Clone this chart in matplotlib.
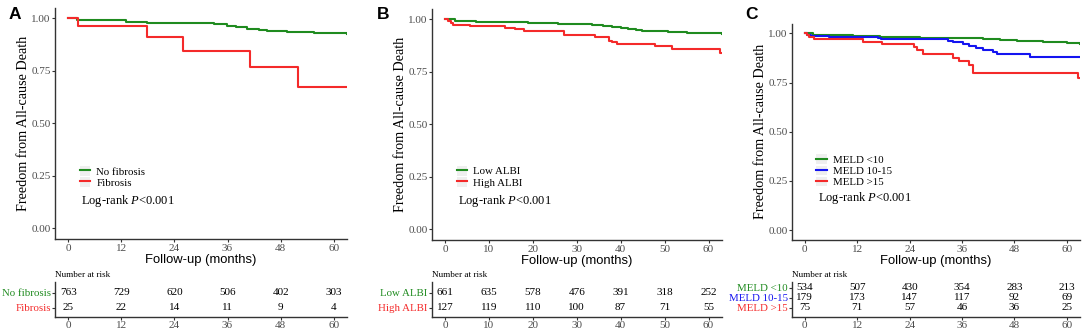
import matplotlib
matplotlib.use('Agg')
import matplotlib.pyplot as plt
from matplotlib.patches import Rectangle
from matplotlib.lines import Line2D
from matplotlib.legend_handler import HandlerTuple

plt.rcParams['font.family'] = ['Liberation Serif', 'DejaVu Serif']
plt.rcParams['mathtext.fontset'] = 'custom'
plt.rcParams['mathtext.rm'] = 'Liberation Serif'
plt.rcParams['mathtext.it'] = 'Liberation Serif:italic'

GREEN = '#1f8b1f'
RED = '#f42a2a'
BLUE = '#1414f0'
GRAY = '#4d4d4d'
SPINE = '#333333'

# ---- Panel A: fibrosis ----
a_ticks = [0, 12, 24, 36, 48, 60]
nofib_t = [0, 1.9, 5.6, 13.1, 17.7, 26.8, 32.9, 35.9, 38.0, 40.4, 43.0, 45.0, 49.5, 55.5, 60.0, 63.0]
nofib_s = [1.0, 0.992, 0.989, 0.982, 0.978, 0.974, 0.971, 0.963, 0.956, 0.949, 0.944, 0.940, 0.932, 0.929, 0.927, 0.924]
fib_t = [0, 2.2, 17.9, 26.0, 41.1, 51.9, 63.0]
fib_s = [1.0, 0.960, 0.909, 0.844, 0.766, 0.672, 0.672]
nofib_risk = [763, 729, 620, 506, 402, 303]
fib_risk = [25, 22, 14, 11, 9, 4]

# ---- Panel B: ALBI ----
b_ticks = [0, 10, 20, 30, 40, 50, 60]
low_t = [0, 2.3, 7.0, 12.9, 19.0, 25.8, 33.4, 36.0, 38.0, 40.0, 41.7, 43.5, 44.8, 50.8, 55.0, 59.9, 63.0]
low_s = [1.0, 0.992, 0.989, 0.986, 0.982, 0.978, 0.973, 0.969, 0.965, 0.959, 0.954, 0.948, 0.944, 0.940, 0.936, 0.933, 0.931]
high_t = [0, 0.8, 1.4, 1.9, 5.7, 13.7, 16.0, 17.9, 27.0, 34.2, 37.3, 38.0, 39.2, 47.9, 51.7, 62.7, 63.0]
high_s = [1.0, 0.992, 0.983, 0.974, 0.968, 0.960, 0.952, 0.944, 0.924, 0.914, 0.899, 0.891, 0.883, 0.874, 0.860, 0.841, 0.841]
low_risk = [661, 635, 578, 476, 391, 318, 252]
high_risk = [127, 119, 110, 100, 87, 71, 55]

# ---- Panel C: MELD ----
c_ticks = [0, 12, 24, 36, 48, 60]
m1_t = [0, 1.8, 11.0, 17.1, 26.3, 34.0, 40.8, 44.7, 48.5, 54.6, 60.0, 63.0]
m1_s = [1.0, 0.991, 0.986, 0.980, 0.978, 0.975, 0.969, 0.964, 0.959, 0.954, 0.949, 0.947]
m2_t = [0, 0.6, 1.4, 5.6, 16.7, 17.4, 32.7, 33.9, 36.2, 37.7, 39.3, 40.8, 43.1, 43.9, 51.5, 63.0]
m2_s = [1.0, 0.991, 0.986, 0.981, 0.976, 0.969, 0.963, 0.954, 0.944, 0.935, 0.927, 0.915, 0.903, 0.893, 0.881, 0.881]
m3_t = [0, 0.6, 1.0, 2.2, 13.4, 17.7, 25.1, 25.6, 27.1, 33.9, 35.4, 37.7, 38.6, 62.6, 63.0]
m3_s = [1.0, 0.991, 0.983, 0.971, 0.957, 0.944, 0.932, 0.915, 0.893, 0.876, 0.859, 0.839, 0.800, 0.771, 0.771]
m1_risk = [534, 507, 430, 354, 283, 213]
m2_risk = [179, 173, 147, 117, 92, 69]
m3_risk = [75, 71, 57, 46, 36, 25]

W, H = 1084, 332
fig = plt.figure(figsize=(W / 100, H / 100), dpi=100)


def px_axes(left, top, right, bottom):
    return fig.add_axes([left / W, 1 - bottom / H, (right - left) / W, (bottom - top) / H])


def style(ax):
    for s in ['top', 'right']:
        ax.spines[s].set_visible(False)
    for s in ['left', 'bottom']:
        ax.spines[s].set_color(SPINE)
        ax.spines[s].set_linewidth(1.0)
    ax.tick_params(length=2.2, width=0.8, color=SPINE, labelcolor=GRAY,
                   labelsize=8, pad=0.8)


def panel(box, tbox, ticks, curves, risks, letter, letter_x, leg_y, lr_y, tylim):
    ax = px_axes(*box)
    style(ax)
    handles = []
    for t, s, c, name in curves:
        ax.step(t, s, where='post', color=c, lw=1.5)
        handles.append((Rectangle((0, 0), 1, 1, fc='#efefef', ec='none'),
                        Line2D([], [], color=c, lw=1.5)))
    ax.set_xlim(-3, 63)
    ax.set_ylim(-0.05, 1.05)
    ax.set_xticks(ticks)
    ax.set_yticks([0, 0.25, 0.5, 0.75, 1.0])
    ax.set_yticklabels(['0.00', '0.25', '0.50', '0.75', '1.00'])
    ax.tick_params(axis='x', pad=1.5)
    ax.set_ylabel('Freedom from All-cause Death', fontsize=10.2, labelpad=1)
    ax.set_xlabel('Follow-up (months)', fontsize=9.4, family='Liberation Sans', labelpad=0.5)
    ax.legend(handles, [cv[3] for cv in curves], loc='upper left',
              bbox_to_anchor=(0.086, leg_y), frameon=False, fontsize=7.8,
              handlelength=0.95, handleheight=1.0, handletextpad=0.55,
              labelspacing=0.05, borderpad=0, borderaxespad=0,
              handler_map={tuple: HandlerTuple(ndivide=1)})
    ax.text(0.09, lr_y, r'Log-rank $\mathit{P}$<0.001', transform=ax.transAxes,
            fontsize=9, va='center', ha='left')
    fig.text(letter_x / W, 1 - 7 / H, letter, family='Liberation Sans',
             fontweight='bold', fontsize=12.5, va='top', ha='left')

    tax = px_axes(*tbox)
    style(tax)
    n = len(risks)
    rows = list(range(n - 1, -1, -1))
    for (vals, c), y in zip(risks, rows):
        for x, v in zip(ticks, vals):
            tax.text(x, y, str(v), ha='center', va='center', fontsize=8, color='black')
    tax.set_xlim(-3, 63)
    tax.set_ylim(*tylim)
    tax.set_xticks(ticks)
    tax.tick_params(axis='x', pad=0.8)
    tax.set_yticks(rows)
    tax.set_yticklabels([cv[3] for cv in curves], fontsize=7.8)
    for lab, cv in zip(tax.get_yticklabels(), curves):
        lab.set_color(cv[2])
    tax.text(0, 1.08, 'Number at risk', transform=tax.transAxes, fontsize=6.6,
             ha='left', va='bottom')


panel((55, 7.5, 347, 239), (55, 282, 347, 317), a_ticks,
      [(nofib_t, nofib_s, GREEN, 'No fibrosis'), (fib_t, fib_s, RED, 'Fibrosis')],
      [(nofib_risk, GREEN), (fib_risk, RED)], 'A', 9, 0.315, 0.165, (-0.6, 1.73))

panel((431.7, 8.8, 721.7, 239.8), (431.7, 281.7, 721.7, 316.7), b_ticks,
      [(low_t, low_s, GREEN, 'Low ALBI'), (high_t, high_s, RED, 'High ALBI')],
      [(low_risk, GREEN), (high_risk, RED)], 'B', 377, 0.32, 0.168, (-0.6, 1.73))

panel((791.7, 23.5, 1080, 240), (791.7, 281.7, 1080, 316.7), c_ticks,
      [(m1_t, m1_s, GREEN, 'MELD <10'), (m2_t, m2_s, BLUE, 'MELD 10-15'),
       (m3_t, m3_s, RED, 'MELD >15')],
      [(m1_risk, GREEN), (m2_risk, BLUE), (m3_risk, RED)], 'C', 745, 0.395, 0.195, (-0.9, 2.6))

fig.savefig('out.png', dpi=100)
